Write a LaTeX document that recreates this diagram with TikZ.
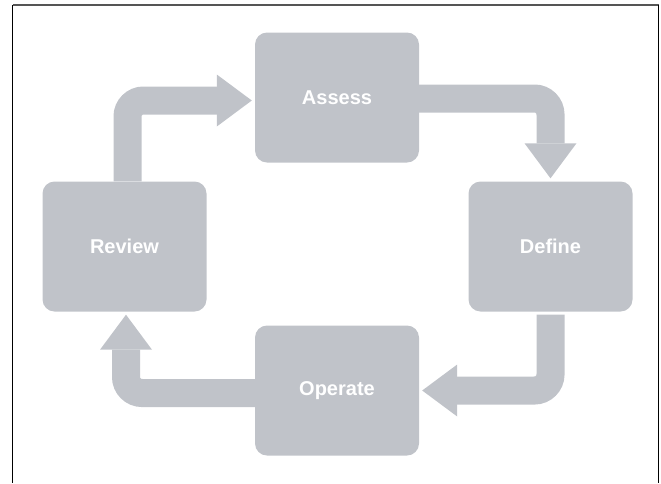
\documentclass[tikz,border=0pt]{standalone}
\usepackage{fontspec}
\setmainfont{Liberation Sans}
\usetikzlibrary{arrows.meta}
\definecolor{boxgray}{RGB}{192,195,201}
\definecolor{framegray}{RGB}{85,85,85}
\begin{document}
\begin{tikzpicture}
  [x=1pt, y=1pt,
  etape/.style={
    fill=boxgray,
    rectangle,
    rounded corners=12pt,
    minimum width=164pt,
    minimum height=130pt,
    text=white,
    font=\fontsize{20}{24}\selectfont\bfseries},
  fleche/.style={
    draw=boxgray,
    line width=28pt,
    rounded corners=16pt,
    shorten >=3pt,
    -{Triangle[length=35pt,width=52pt,line width=0pt]}}]

  \useasboundingbox (0,0) rectangle (661,-483);

  % cadre
  \draw [framegray, line width=1.4pt] (12.5,-5) -- (658.5,-5);
  \draw [black, line width=1.4pt] (12.5,-5) -- (12.5,-483);
  \draw [black, line width=1.4pt] (658.5,-5) -- (658.5,-483);

  \node [etape] at (337,-97.5) (assess) {Assess};
  \node [etape] at (550.5,-246.5) (define) {Define};
  \node [etape] at (337,-390.5) (operate) {Operate};
  \node [etape] at (124.5,-246.5) (review) {Review};

  \draw [fleche] ([xshift=3pt]review.north) |- ([yshift=-3pt]assess.west);
  \draw [fleche] ([yshift=-1pt]assess.east) -| (define.north);
  \draw [fleche] ([yshift=-3pt]define.south) |- (operate.east);
  \draw [fleche] ([yshift=-2.5pt]operate.west) -| ([xshift=1.5pt]review.south);
\end{tikzpicture}
\end{document}
